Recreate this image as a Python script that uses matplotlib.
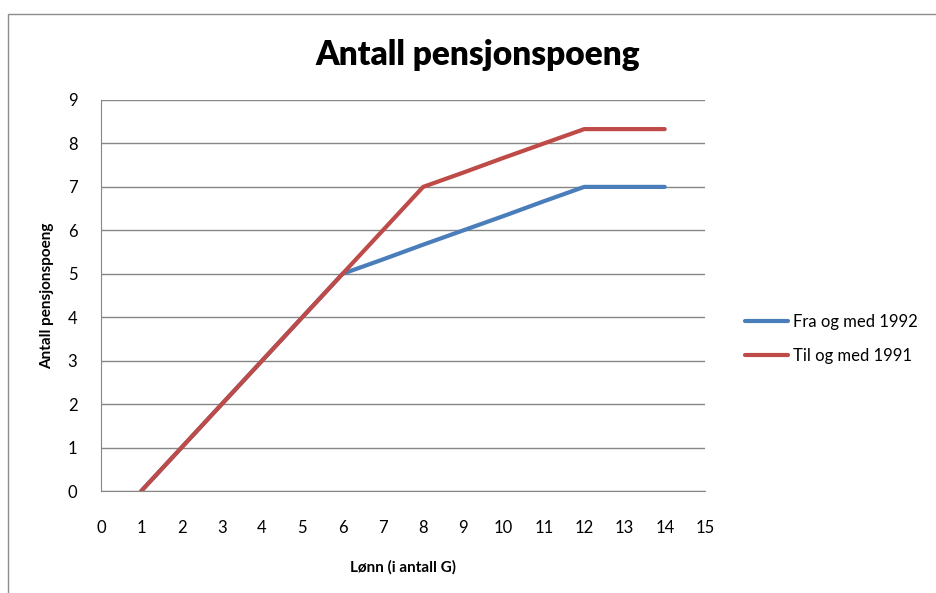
import matplotlib.pyplot as plt
from matplotlib.patches import Rectangle

plt.rcParams['font.family'] = ['Lato', 'DejaVu Sans']

# data
lonn = [1, 2, 3, 4, 5, 6, 7, 8, 9, 10, 11, 12, 13, 14]
fra_1992 = [0, 1, 2, 3, 4, 5, 5.33, 5.67, 6, 6.33, 6.67, 7, 7, 7]
til_1991 = [0, 1, 2, 3, 4, 5, 6, 7, 7.33, 7.67, 8, 8.33, 8.33, 8.33]
serie_navn = ["Fra og med 1992", "Til og med 1991"]

fig = plt.figure(figsize=(9.36, 5.93), dpi=100)

# chart area border (goes off canvas on right/bottom)
fig.patches.append(Rectangle((8 / 936, -0.1), 1.2, 1 - 14 / 593 + 0.1,
                             transform=fig.transFigure, fill=False,
                             edgecolor='#8c8c8c', linewidth=1.0))

ax = fig.add_axes([101 / 936, 1 - 491 / 593, (705 - 101) / 936, (491 - 100) / 593])

ax.plot(lonn, fra_1992, color='#4A7EBB', linewidth=3, label=serie_navn[0],
        solid_capstyle='round', solid_joinstyle='round')
ax.plot(lonn, til_1991, color='#BE4B48', linewidth=3, label=serie_navn[1],
        solid_capstyle='round', solid_joinstyle='round')

ax.set_xlim(0, 15)
ax.set_ylim(0, 9)
ax.set_xticks(range(0, 16))
ax.set_yticks(range(0, 10))
ax.yaxis.grid(True, color='#868686', linewidth=1)
ax.set_axisbelow(True)
for s in ['top', 'right']:
    ax.spines[s].set_visible(False)
ax.spines['left'].set_color('#868686')
ax.spines['bottom'].set_color('#868686')
ax.tick_params(axis='both', length=0, labelsize=12)
ax.tick_params(axis='x', pad=21)
ax.tick_params(axis='y', pad=17)

ax.set_ylabel("Antall pensjonspoeng", fontsize=11, fontweight='bold', labelpad=10)
ax.set_xlabel("Lønn (i antall G)", fontsize=11, fontweight='bold', labelpad=17)
fig.text(478 / 936, 1 - 55 / 593, "Antall pensjonspoeng", fontsize=24,
         fontweight='heavy', ha='center', va='center')

ax.legend(loc='center left', bbox_to_anchor=(730 / 936, 1 - 339 / 593),
          bbox_transform=fig.transFigure, frameon=False, fontsize=12,
          handlelength=2.6, handletextpad=0.3, labelspacing=1.1)

fig.savefig('out.png', dpi=100)
